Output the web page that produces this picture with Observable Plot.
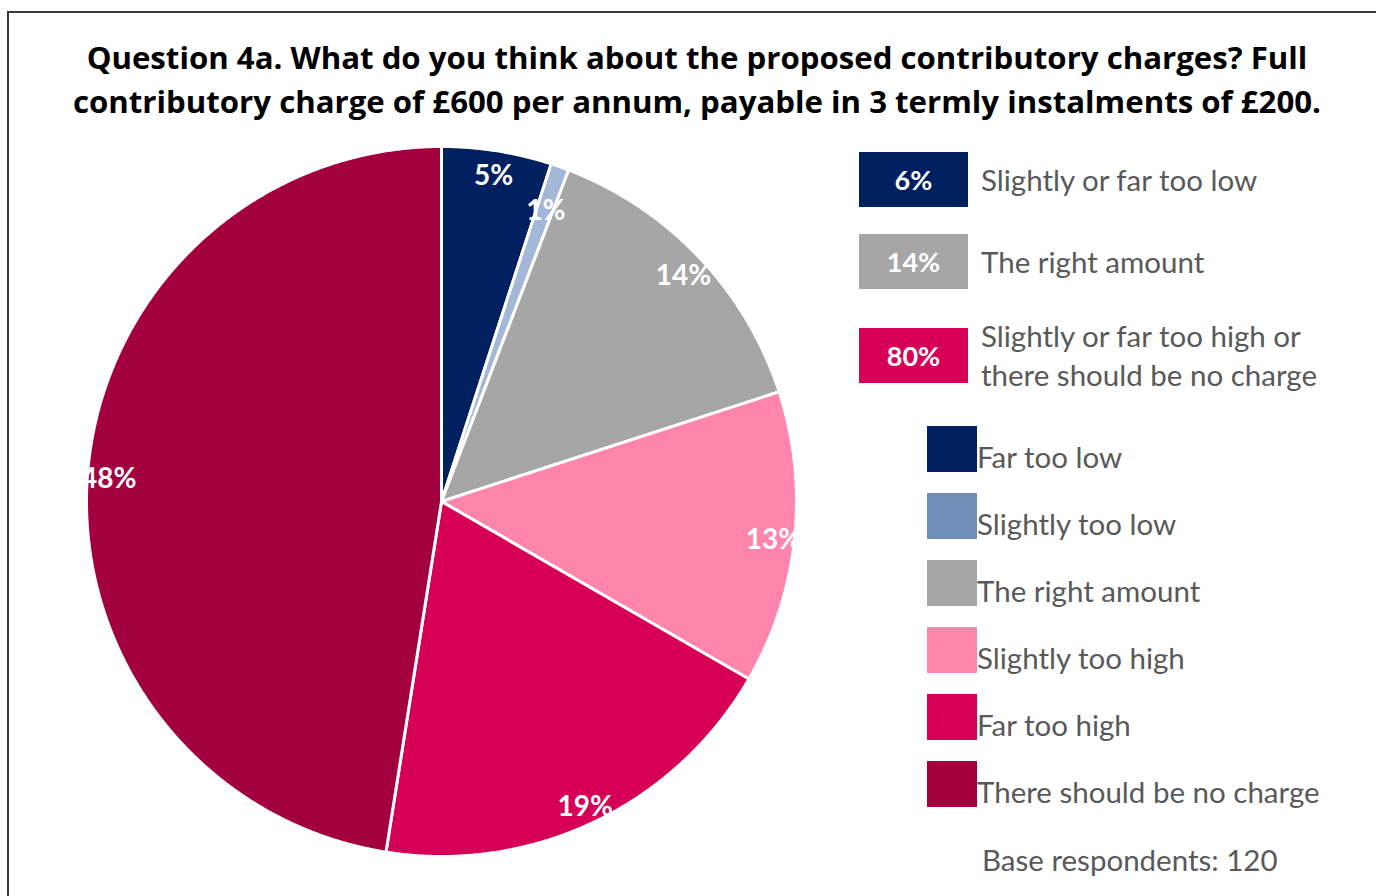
<!DOCTYPE html>
<html><head><meta charset="utf-8">
<script src="https://cdn.jsdelivr.net/npm/d3@7"></script>
<script src="https://cdn.jsdelivr.net/npm/@observablehq/plot@0.6"></script>
<style>
body{margin:0;width:1378px;height:896px;overflow:hidden;background:#fff;font-family:Lato,"Open Sans",sans-serif;position:relative;}
#frame{position:absolute;left:7px;top:11px;width:1367px;height:900px;border-left:2px solid #3a3a3a;border-top:2px solid #3a3a3a;}
#title{position:absolute;left:0;width:1394px;top:35px;text-align:center;font-family:"Open Sans",sans-serif;font-weight:bold;font-size:31.2px;line-height:44px;color:#000;white-space:nowrap;}
#pie{position:absolute;left:71px;top:131px;}
#summary{position:absolute;left:859px;top:152px;display:flex;flex-direction:column;gap:27px;}
.srow{display:flex;align-items:center;min-height:55px;}
.sbox{width:109px;height:55px;color:#fff;font-weight:bold;font-size:27px;display:flex;align-items:center;justify-content:center;flex:none;}
.stext{margin-left:13px;color:#595959;font-size:29.5px;line-height:39px;white-space:nowrap;}
#legend{position:absolute;left:927px;top:426px;display:flex;flex-direction:column;gap:21px;}
.lrow{display:flex;align-items:flex-start;height:46px;}
.sw{width:50px;height:46px;flex:none;}
.ltext{color:#595959;font-size:29.5px;line-height:34px;margin-top:14px;white-space:nowrap;}
#base{position:absolute;left:982px;top:843px;color:#595959;font-size:29.5px;line-height:34px;}
</style></head>
<body>
<div id="frame"></div>
<div id="title">Question 4a. What do you think about the proposed contributory charges? Full<br>contributory charge of £600 per annum, payable in 3 termly instalments of £200.</div>
<div id="pie"></div>
<div id="summary"></div>
<div id="legend"></div>
<div id="base"></div>
<script>
// Data
const categories = ["Far too low", "Slightly too low", "The right amount", "Slightly too high", "Far too high", "There should be no charge"];
const respondents = [6, 1, 17, 16, 23, 57];
const baseRespondents = 120;
const sliceColors = ["#002060", "#A3B8D6", "#A6A6A6", "#FF85AD", "#D60057", "#A3003F"];
const swatchColors = ["#002060", "#6F8FB8", "#A6A6A6", "#FF85AD", "#D60057", "#A3003F"];
const summaryGroups = ["Slightly or far too low", "The right amount", "Slightly or far too high or\nthere should be no charge"];
const summaryPct = [6, 14, 80];
const summaryColors = ["#002060", "#A6A6A6", "#D60057"];

// Pie geometry from data
const R = 355;
const total = d3.sum(respondents);
const arcs = d3.pie().sort(null).value(d => d)(respondents);
const pts = [];
arcs.forEach((a, i) => {
  const cat = categories[i];
  pts.push({cat, x: 0, y: 0});
  const n = Math.max(2, Math.ceil((a.endAngle - a.startAngle) / (Math.PI / 720)));
  for (let k = 0; k <= n; k++) {
    const t = a.startAngle + (a.endAngle - a.startAngle) * k / n;
    pts.push({cat, x: R * Math.sin(t), y: -R * Math.cos(t)});
  }
  pts.push({cat, x: 0, y: 0});
});
const labels = arcs.map((a, i) => {
  const mid = (a.startAngle + a.endAngle) / 2;
  const share = respondents[i] / total;
  const rr = share < 0.02 ? 0.88 * R : 0.94 * R;
  return {x: rr * Math.sin(mid), y: -rr * Math.cos(mid), text: Math.round(share * 100) + "%"};
});

const chart = Plot.plot({
  width: 740, height: 740, margin: 0,
  style: {fontFamily: "Lato, sans-serif", background: "transparent"},
  x: {domain: [-370, 370], axis: null},
  y: {domain: [-370, 370], range: [0, 740], axis: null},
  color: {domain: categories, range: sliceColors},
  marks: [
    Plot.line(pts, {x: "x", y: "y", z: "cat", fill: "cat", stroke: "white", strokeWidth: 3, strokeLinejoin: "round"}),
    Plot.text(labels, {x: "x", y: "y", dy: 4, text: "text", fill: "white", fontSize: 28, fontWeight: "bold"})
  ]
});
document.getElementById("pie").appendChild(chart);

// Summary legend
const sumEl = document.getElementById("summary");
summaryGroups.forEach((g, i) => {
  const row = document.createElement("div"); row.className = "srow";
  const box = document.createElement("div"); box.className = "sbox";
  box.style.background = summaryColors[i]; box.textContent = summaryPct[i] + "%";
  const t = document.createElement("div"); t.className = "stext";
  t.innerHTML = g.split("\n").join("<br>");
  row.appendChild(box); row.appendChild(t); sumEl.appendChild(row);
});
// Category legend
const legEl = document.getElementById("legend");
categories.forEach((c, i) => {
  const row = document.createElement("div"); row.className = "lrow";
  const sw = document.createElement("div"); sw.className = "sw"; sw.style.background = swatchColors[i];
  const t = document.createElement("div"); t.className = "ltext"; t.textContent = c;
  row.appendChild(sw); row.appendChild(t); legEl.appendChild(row);
});
document.getElementById("base").textContent = "Base respondents: " + baseRespondents;
</script>
</body></html>
